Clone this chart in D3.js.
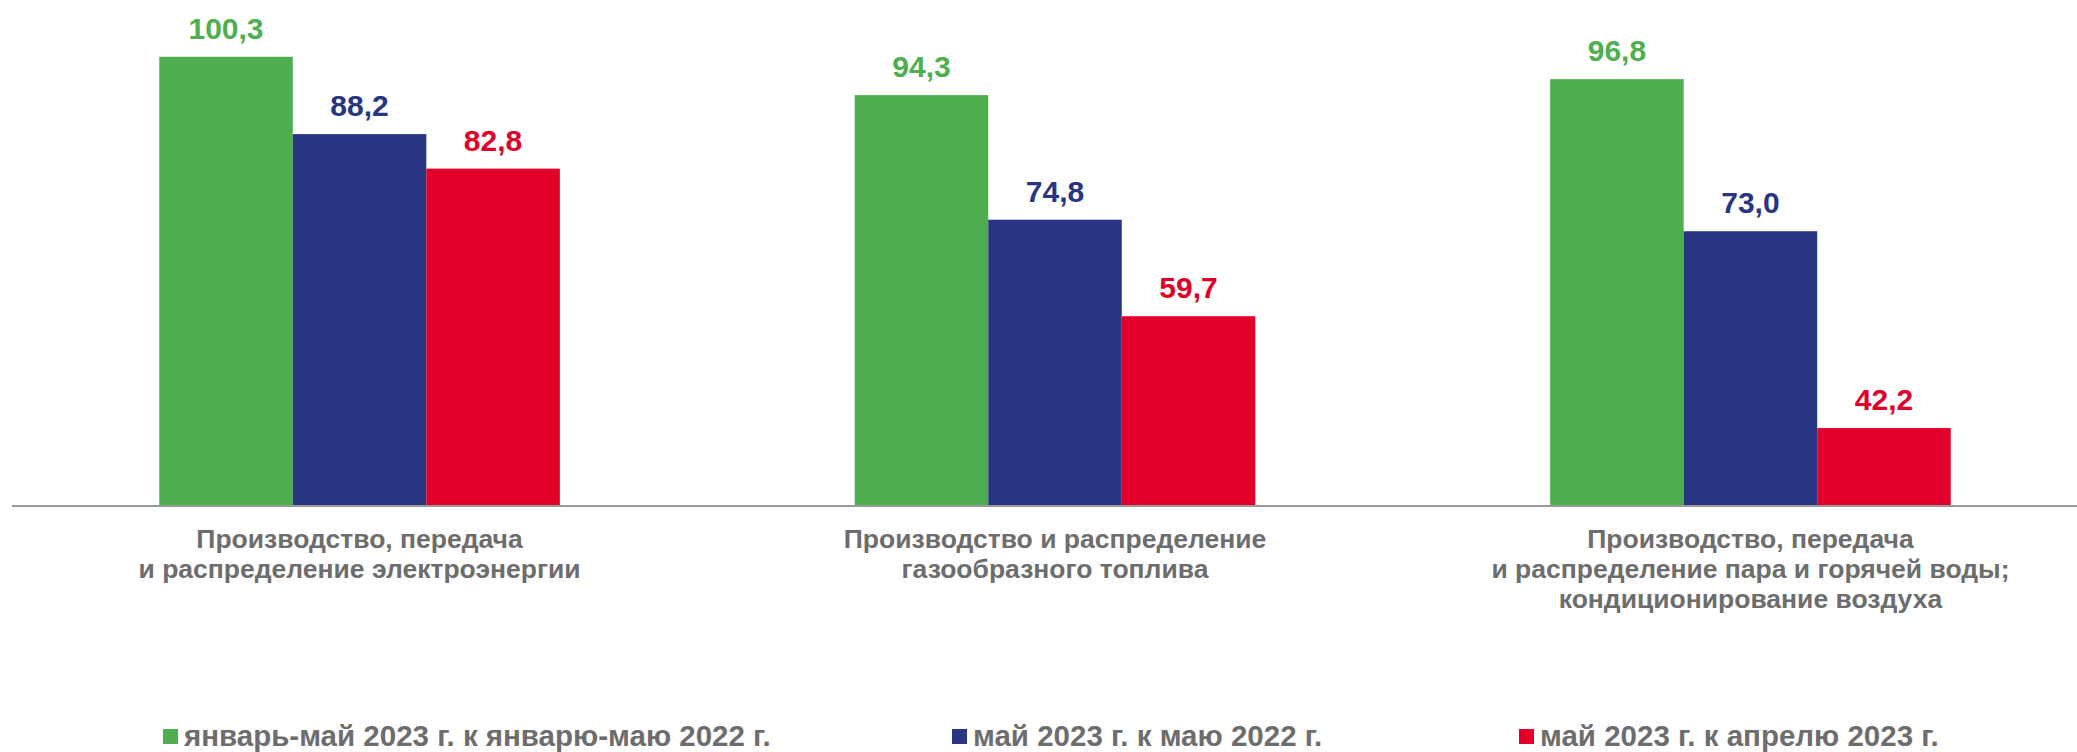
<!DOCTYPE html>
<html>
<head>
<meta charset="utf-8">
<script src="https://cdn.jsdelivr.net/npm/d3@7"></script>
<style>
  html, body { margin: 0; padding: 0; background: #fff; }
  svg text { font-family: "Liberation Sans", Arial, sans-serif; font-weight: bold; }
</style>
</head>
<body>
<div id="chart"></div>
<script>
const categories = [
  ['Производство, передача', 'и распределение электроэнергии'],
  ['Производство и распределение', 'газообразного топлива'],
  ['Производство, передача', 'и распределение пара и горячей воды;', 'кондиционирование воздуха']
];
const seriesNames = [
  'январь-май 2023 г. к январю-маю 2022 г.',
  'май 2023 г. к маю 2022 г.',
  'май 2023 г. к апрелю 2023 г.'
];
const janMay = [100.3, 94.3, 96.8];
const mayYear = [88.2, 74.8, 73.0];
const mayApr = [82.8, 59.7, 42.2];
const colors = ['#4fae4f', '#283583', '#e2002b'];

const width = 2077, height = 752;
const baseline = 506;
const series = [janMay, mayYear, mayApr];

const svg = d3.select('#chart').append('svg')
  .attr('width', width).attr('height', height);

const x0 = d3.scaleBand().domain(d3.range(categories.length))
  .range([16, 2094]).paddingInner(0.424).paddingOuter(0.206);
const x1 = d3.scaleBand().domain(d3.range(series.length)).range([0, x0.bandwidth()]);
const y = d3.scaleLinear().domain([30, 110]).range([baseline, baseline - 80 * 6.39]);

const groups = svg.selectAll('.grp').data(categories).enter().append('g')
  .attr('class', 'grp')
  .attr('transform', (d, i) => 'translate(' + x0(i) + ',0)');

series.forEach((vals, s) => {
  groups.append('rect')
    .attr('x', x1(s))
    .attr('width', x1.bandwidth())
    .attr('y', (d, i) => y(vals[i]))
    .attr('height', (d, i) => baseline - y(vals[i]))
    .attr('fill', colors[s]);
  groups.append('text')
    .attr('x', x1(s) + x1.bandwidth() / 2)
    .attr('y', (d, i) => y(vals[i]) - 18)
    .attr('text-anchor', 'middle')
    .attr('font-size', 30)
    .attr('fill', colors[s])
    .text((d, i) => d3.format('.1f')(vals[i]).replace('.', ','));
});

// baseline
svg.append('line')
  .attr('x1', 12).attr('x2', width)
  .attr('y1', baseline).attr('y2', baseline)
  .attr('stroke', '#999').attr('stroke-width', 2);

// category labels
groups.append('text')
  .attr('x', x0.bandwidth() / 2)
  .attr('y', 548)
  .attr('text-anchor', 'middle')
  .attr('font-size', 26.5)
  .attr('fill', '#6d6d6d')
  .selectAll('tspan').data(d => d).enter().append('tspan')
    .attr('x', x0.bandwidth() / 2)
    .attr('dy', (d, i) => i === 0 ? 0 : 30)
    .text(d => d);

// legend
const legendX = [163, 952, 1519];
const legend = svg.selectAll('.leg').data(seriesNames).enter().append('g')
  .attr('class', 'leg')
  .attr('transform', (d, i) => 'translate(' + legendX[i] + ',729)');
legend.append('rect').attr('width', 15).attr('height', 15)
  .attr('fill', (d, i) => colors[i]);
legend.append('text')
  .attr('x', 21).attr('y', 17)
  .attr('font-size', 29.5)
  .attr('fill', '#6d6d6d')
  .text(d => d);
</script>
</body>
</html>
